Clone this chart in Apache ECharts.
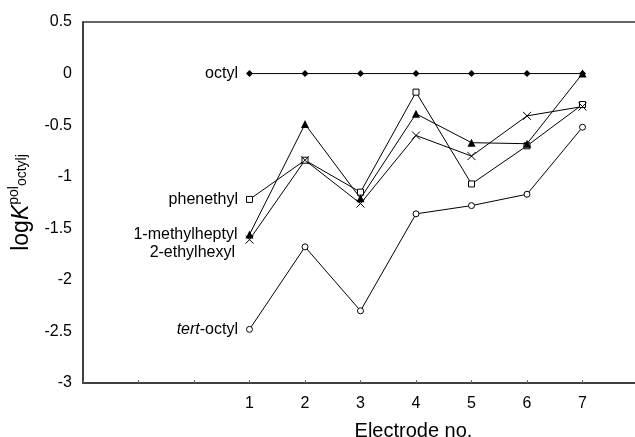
<!DOCTYPE html>
<html>
<head>
<meta charset="utf-8">
<script src="https://cdn.jsdelivr.net/npm/echarts@6/dist/echarts.min.js"></script>
<style>html,body{margin:0;padding:0;background:#fff}#c{width:635px;height:437px}</style>
</head>
<body>
<div id="c"></div>
<script>
const electrodes = [1, 2, 3, 4, 5, 6, 7];
const octyl = [0, 0, 0, 0, 0, 0, 0];
const phenethyl = [-1.22, -0.84, -1.15, -0.18, -1.07, -0.70, -0.30];
const methylheptyl = [-1.56, -0.49, -1.21, -0.39, -0.67, -0.68, 0.0];
const ethylhexyl = [-1.61, -0.84, -1.26, -0.60, -0.80, -0.41, -0.32];
const tertOctyl = [-2.48, -1.68, -2.30, -1.36, -1.28, -1.17, -0.52];
const yTicks = [-3, -2.5, -2, -1.5, -1, -0.5, 0, 0.5];

const FONT = 'Liberation Sans, Arial, sans-serif';
const chart = echarts.init(document.getElementById('c'), null, {renderer: 'canvas'});

function pts(vals, labelCfg) {
  return vals.map((v, i) => {
    const d = {value: [electrodes[i], v]};
    if (i === 0 && labelCfg) d.label = Object.assign({
      show: true, position: 'left', distance: 8, fontSize: 16, color: '#000', fontFamily: FONT
    }, labelCfg);
    return d;
  });
}
const lineStyle = {color: '#000', width: 1};
const crossPath = 'path://M0,0 L10,10 M10,0 L0,10';

chart.setOption({
  animation: false,
  backgroundColor: '#fff',
  grid: {left: 83, top: 22, width: 555, height: 361, show: true, borderColor: '#333', borderWidth: 1.5,
    containLabel: false, outerBoundsMode: 'none'},
  xAxis: {
    type: 'value', min: -2, max: 8, interval: 1,
    name: 'Electrode no.', nameLocation: 'middle', nameGap: 38,
    nameTextStyle: {fontSize: 20, color: '#000', fontFamily: FONT, padding: [0, 0, 0, 106]},
    axisLine: {show: true, onZero: false, lineStyle: {color: '#333', width: 1.5}},
    axisTick: {show: true, inside: true, length: 3, lineStyle: {color: '#666'}},
    axisLabel: {fontSize: 16, color: '#000', fontFamily: FONT, margin: 13,
      formatter: v => (electrodes.indexOf(v) >= 0 ? String(v) : '')},
    splitLine: {show: false}
  },
  yAxis: {
    type: 'value', min: -3, max: 0.5, interval: 0.5,
    name: '{n|log}{i|K}{sup|pol}{sub|octylj}', nameLocation: 'middle', nameGap: 46, nameRotate: 90,
    nameTextStyle: {
      color: '#000', fontFamily: FONT,
      rich: {
        n: {fontSize: 23, fontFamily: FONT, color: '#000', lineHeight: 30, verticalAlign: 'middle'},
        i: {fontSize: 23, fontFamily: FONT, fontStyle: 'italic', color: '#000', lineHeight: 30, verticalAlign: 'middle'},
        sup: {fontSize: 14, fontFamily: FONT, color: '#000', verticalAlign: 'top', lineHeight: 14},
        sub: {fontSize: 14, fontFamily: FONT, color: '#000', verticalAlign: 'middle', lineHeight: 14}
      }
    },
    axisLine: {show: true, onZero: false, lineStyle: {color: '#333', width: 1.5}},
    axisTick: {show: false},
    axisLabel: {fontSize: 16, color: '#000', fontFamily: FONT, margin: 11,
      formatter: v => (yTicks.indexOf(v) >= 0 ? String(v) : '')},
    splitLine: {show: false}
  },
  series: [
    {name: 'octyl', type: 'line', data: pts(octyl, {formatter: 'octyl'}), symbol: 'diamond', symbolSize: 7,
      itemStyle: {color: '#000'}, lineStyle, z: 5},
    {name: 'phenethyl', type: 'line', data: pts(phenethyl, {formatter: 'phenethyl'}), symbol: 'rect', symbolSize: 6,
      itemStyle: {color: '#fff', borderColor: '#000', borderWidth: 1}, lineStyle, z: 4},
    {name: '1-methylheptyl', type: 'line', data: pts(methylheptyl, {formatter: '1-methylheptyl'}), symbol: 'triangle', symbolSize: 8,
      itemStyle: {color: '#000'}, lineStyle, z: 6},
    {name: '2-ethylhexyl', type: 'line', data: pts(ethylhexyl, {formatter: '2-ethylhexyl', offset: [0, 13]}), symbol: crossPath, symbolSize: 8,
      itemStyle: {color: 'none', borderColor: '#000', borderWidth: 1}, lineStyle, z: 4},
    {name: 'tert-octyl', type: 'line', data: pts(tertOctyl, {formatter: '{i|tert}-octyl',
        rich: {i: {fontStyle: 'italic', fontSize: 16, color: '#000', fontFamily: FONT}}}),
      symbol: 'circle', symbolSize: 6,
      itemStyle: {color: '#fff', borderColor: '#000', borderWidth: 1}, lineStyle, z: 4}
  ]
});
</script>
</body>
</html>
